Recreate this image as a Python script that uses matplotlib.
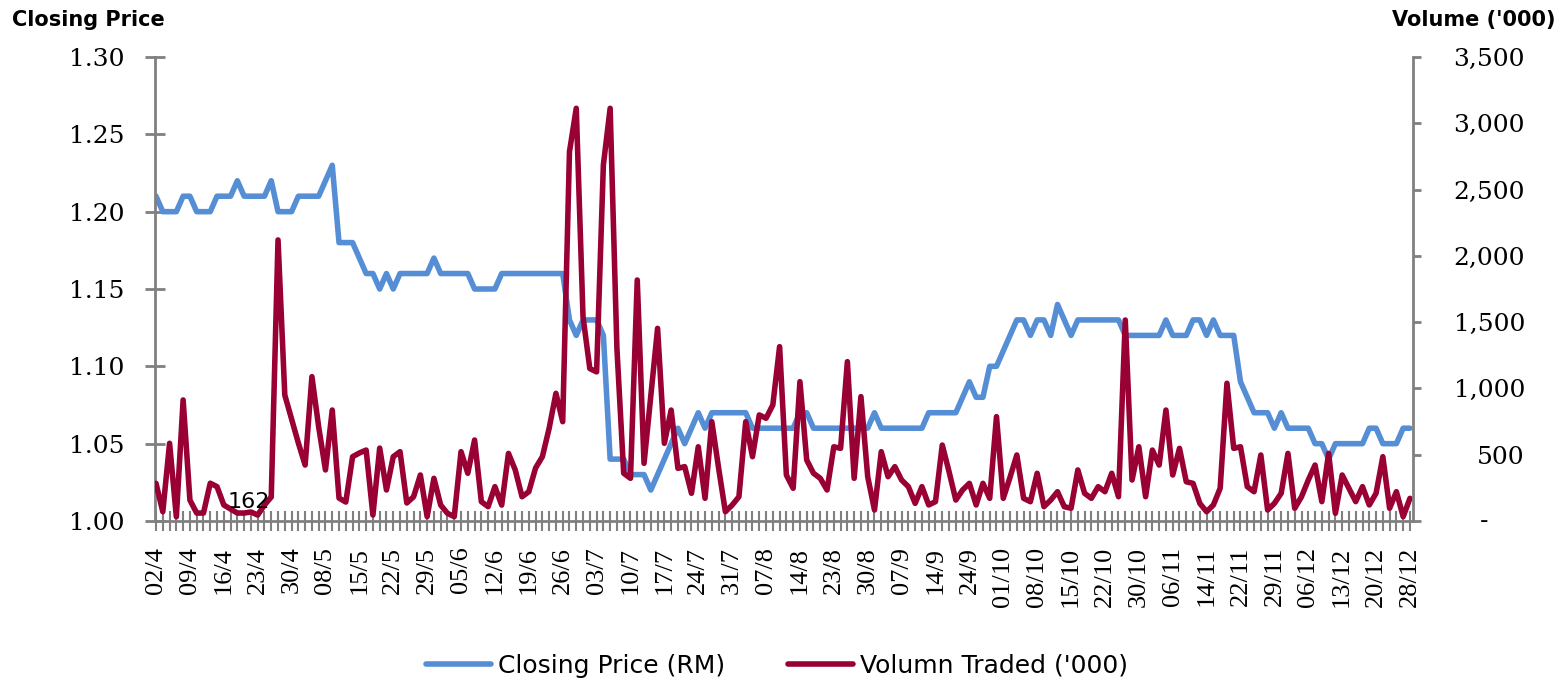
import numpy as np
import matplotlib
matplotlib.use("Agg")
import matplotlib.pyplot as plt
import matplotlib.transforms as mtransforms

# category labels (one every 5 trading days)
dates = ["02/4", "09/4", "16/4", "23/4", "30/4", "08/5", "15/5", "22/5", "29/5",
         "05/6", "12/6", "19/6", "26/6", "03/7", "10/7", "17/7", "24/7", "31/7",
         "07/8", "14/8", "23/8", "30/8", "07/9", "14/9", "24/9", "01/10", "08/10",
         "15/10", "22/10", "30/10", "06/11", "14/11", "22/11", "29/11", "06/12",
         "13/12", "20/12", "28/12"]

# closing price (RM)
price = [1.21, 1.20, 1.20, 1.20, 1.21, 1.21, 1.20, 1.20, 1.20, 1.21,
         1.21, 1.21, 1.22, 1.21, 1.21, 1.21, 1.21, 1.22, 1.20, 1.20,
         1.20, 1.21, 1.21, 1.21, 1.21, 1.22, 1.23, 1.18, 1.18, 1.18,
         1.17, 1.16, 1.16, 1.15, 1.16, 1.15, 1.16, 1.16, 1.16, 1.16,
         1.16, 1.17, 1.16, 1.16, 1.16, 1.16, 1.16, 1.15, 1.15, 1.15,
         1.15, 1.16, 1.16, 1.16, 1.16, 1.16, 1.16, 1.16, 1.16, 1.16,
         1.16, 1.13, 1.12, 1.13, 1.13, 1.13, 1.12, 1.04, 1.04, 1.04,
         1.03, 1.03, 1.03, 1.02, 1.03, 1.04, 1.05, 1.06, 1.05, 1.06,
         1.07, 1.06, 1.07, 1.07, 1.07, 1.07, 1.07, 1.07, 1.06, 1.06,
         1.06, 1.06, 1.06, 1.06, 1.06, 1.07, 1.07, 1.06, 1.06, 1.06,
         1.06, 1.06, 1.06, 1.06, 1.06, 1.06, 1.07, 1.06, 1.06, 1.06,
         1.06, 1.06, 1.06, 1.06, 1.07, 1.07, 1.07, 1.07, 1.07, 1.08,
         1.09, 1.08, 1.08, 1.10, 1.10, 1.11, 1.12, 1.13, 1.13, 1.12,
         1.13, 1.13, 1.12, 1.14, 1.13, 1.12, 1.13, 1.13, 1.13, 1.13,
         1.13, 1.13, 1.13, 1.12, 1.12, 1.12, 1.12, 1.12, 1.12, 1.13,
         1.12, 1.12, 1.12, 1.13, 1.13, 1.12, 1.13, 1.12, 1.12, 1.12,
         1.09, 1.08, 1.07, 1.07, 1.07, 1.06, 1.07, 1.06, 1.06, 1.06,
         1.06, 1.05, 1.05, 1.04, 1.05, 1.05, 1.05, 1.05, 1.05, 1.06,
         1.06, 1.05, 1.05, 1.05, 1.06, 1.06]

# volume traded ('000)
volume = [284, 70, 586, 32, 913, 158, 60, 60, 285, 259,
          121, 90, 60, 60, 68, 45, 121, 181, 2120, 950,
          770, 588, 422, 1089, 709, 385, 837, 173, 143, 485,
          513, 535, 45, 550, 234, 485, 523, 136, 183, 347,
          33, 322, 120, 58, 33, 523, 360, 611, 146, 108,
          259, 120, 510, 385, 183, 221, 400, 485, 699, 963,
          749, 2786, 3113, 1540, 1150, 1125, 2685, 3113, 1300, 360,
          322, 1818, 435, 940, 1453, 586, 837, 397, 410, 209,
          560, 171, 749, 400, 70, 120, 183, 749, 485, 800,
          775, 875, 1315, 347, 247, 1051, 460, 360, 322, 234,
          560, 548, 1202, 322, 938, 334, 83, 523, 334, 410,
          309, 259, 133, 259, 121, 146, 573, 372, 158, 234,
          284, 121, 284, 171, 787, 171, 330, 498, 171, 146,
          360, 108, 158, 221, 108, 96, 385, 209, 171, 259,
          221, 360, 183, 1516, 309, 560, 183, 535, 422, 837,
          347, 548, 296, 284, 133, 70, 121, 247, 1039, 548,
          560, 259, 221, 498, 83, 133, 209, 510, 96, 183,
          309, 422, 146, 510, 58, 347, 247, 146, 259, 121,
          209, 485, 96, 221, 33, 171]

price_ticks = [1.00, 1.05, 1.10, 1.15, 1.20, 1.25, 1.30]
vol_ticks = [0, 500, 1000, 1500, 2000, 2500, 3000, 3500]

grey = "#808080"
blue = "#558ED5"
red = "#990033"

x = np.arange(len(price))

fig = plt.figure(figsize=(15.63, 6.83), dpi=100)
ax = fig.add_axes([155 / 1563, 1 - 521 / 683, (1413 - 155) / 1563, (521 - 57) / 683])
ax2 = ax.twinx()

l1, = ax.plot(x, price, color=blue, lw=4.0, solid_joinstyle="round",
              solid_capstyle="round", label="Closing Price (RM)")
l2, = ax2.plot(x, volume, color=red, lw=4.0, solid_joinstyle="round",
               solid_capstyle="round", label="Volumn Traded ('000)")

ax.set_xlim(-0.15, 185.45)
ax.set_ylim(1.00, 1.30)
ax2.set_ylim(0, 3500)

for s in ["top", "right"]:
    ax.spines[s].set_visible(False)
for s in ["top", "left", "bottom"]:
    ax2.spines[s].set_visible(False)
for sp in [ax.spines["left"], ax.spines["bottom"], ax2.spines["right"]]:
    sp.set_color(grey)
    sp.set_linewidth(2.0)

ax.set_yticks(price_ticks, ["%.2f" % v for v in price_ticks],
              fontfamily="DejaVu Serif", fontsize=18)
ax.tick_params(axis="y", direction="inout", length=14.4, width=2.0, color=grey, pad=15)

ax.set_xticks(x[::5], dates, fontfamily="Liberation Serif", fontsize=19, rotation=90)
ax.set_xticks(x, minor=True)
ax.tick_params(axis="x", which="both", direction="inout", length=15, width=1.5,
               color=grey, pad=11)

vol_labels = ["" if v == 0 else "{:,}".format(v) for v in vol_ticks]
ax2.set_yticks(vol_ticks, vol_labels, fontfamily="DejaVu Serif", fontsize=18, ha="right")
ax2.tick_params(axis="y", direction="out", length=6, width=2.0, color=grey, pad=74.6)
ax2.text((1484 - 155) / (1413 - 155), 0, "-", fontfamily="DejaVu Serif", fontsize=18,
         ha="center", va="center",
         transform=mtransforms.blended_transform_factory(ax2.transAxes, ax2.transData),
         clip_on=False)

ax2.text(13.7, 143, "162", fontsize=16, ha="center", va="center")

fig.text(12 / 1563, 1 - 20 / 683, "Closing Price", fontsize=15, fontweight="bold",
         ha="left", va="center")
fig.text(1555 / 1563, 1 - 20 / 683, "Volume ('000)", fontsize=15, fontweight="bold",
         ha="right", va="center")

fig.legend([l1, l2], [l1.get_label(), l2.get_label()], loc="center",
           bbox_to_anchor=(777 / 1563, 1 - 666 / 683), ncol=2, frameon=False,
           fontsize=18, handlelength=2.6, handletextpad=0.3, columnspacing=2.5)

fig.savefig("out.png", dpi=100)
